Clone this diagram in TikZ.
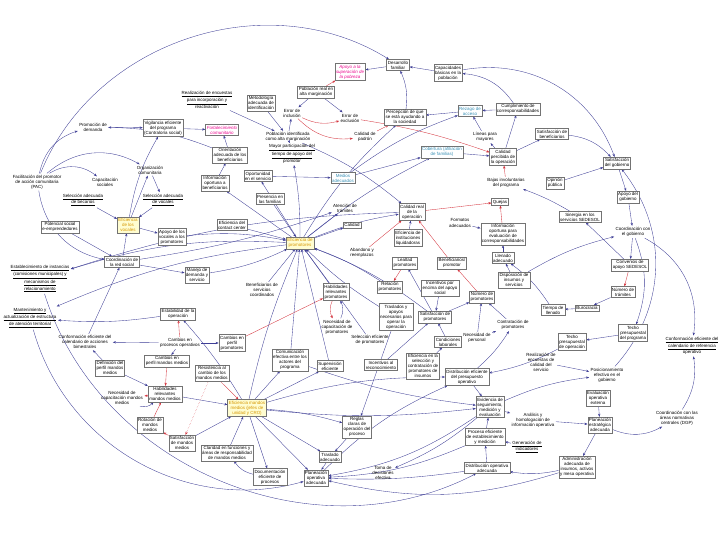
\documentclass[tikz,border=0pt]{standalone}
\usepackage{fontspec}
\setmainfont{Liberation Sans}
\usetikzlibrary{arrows.meta, backgrounds}
\definecolor{lkblue}{RGB}{62,62,150}
\definecolor{ngred}{RGB}{212,52,62}
\definecolor{golden}{RGB}{214,150,0}
\newcommand{\undl}[1]{\underline{#1}}
\begin{document}
\begin{tikzpicture}[
    x=0.03cm, y=-0.03cm,
    every node/.style={font=\fontsize{3.8}{4.3}\selectfont, align=center, inner sep=1.1pt},
    box/.style={rectangle, draw=black!55, line width=0.3pt, fill=white},
    txt/.style={rectangle},
    utxt/.style={rectangle},
    magbox/.style={box, text=magenta, font=\fontsize{3.8}{4.3}\selectfont\itshape},
    cyanbox/.style={box, text=cyan!70!black},
    yelbox/.style={box, fill=yellow!18, text=golden},
    lk/.style={-{Stealth[length=2.6pt,width=2pt]}, draw=lkblue, line width=0.3pt},
    ng/.style={-{Stealth[length=2.6pt,width=2pt]}, draw=ngred, line width=0.3pt}
]
\useasboundingbox (0,0) rectangle (720,540);

% Community side (top left)
\node[txt] (dem) at (93,127) {Promoción de\\demanda};
\node[box] (vig) at (163,128) {Vigilancia eficiente\\del programa\\(Contraloría social)};
\node[txt] (orgc) at (150,170) {Organización\\comunitaria};
\node[txt] (pac) at (37,182) {Facilitación del promotor\\de acción comunitaria\\(PAC)};
\node[txt] (capso) at (105,182) {Capacitación\\sociales};
\node[utxt] (selbec) at (83,200) {\undl{Selección adecuada}\\\undl{de becarios}};
\node[utxt] (selvoc) at (163,200) {\undl{Selección adecuada}\\\undl{de vocales}};
\node[yelbox] (efvoc) at (128,225) {Eficiencia\\de los\\vocales};
\node[box] (potsoc) at (60,227) {Potencial social\\e-emprendedores};
\node[box] (apvoc) at (172,237) {Apoyo de los\\vocales a los\\promotores};
\node[box] (coord) at (122,262) {Coordinación de\\la red social};
\node[utxt] (estab) at (40,279) {\undl{Establecimiento de instancias}\\\undl{(comisiones municipales) y}\\\undl{mecanismos de}\\\undl{relacionamiento}};
\node[utxt] (mant) at (30,318) {\undl{Mantenimiento y}\\\undl{actualización de estructura}\\\undl{de atención territorial}};
\node[box] (estop) at (178,314) {Estabilidad de la\\operación};
\node[txt] (confcal) at (85,342) {Conformación eficiente del\\calendario de acciones\\bimestrales};

% Identification and results (top middle)
\node[magbox] (apoyo) at (350,72) {Apoyo a la\\superación de\\la pobreza};
\node[box] (pobreal) at (316,92) {Población real en\\alta marginación};
\node[utxt] (encu) at (207,100) {\undl{Realización de encuestas}\\\undl{para incorporación y}\\reactivación};
\node[box] (metod) at (261,103) {Metodología\\adecuada de\\identificación};
\node[txt] (errinc) at (292,113) {Error de\\inclusión};
\node[txt] (errexc) at (350,118) {Error de\\exclusión};
\node[magbox] (fortc) at (222,130) {Fortalecimiento\\comunitario};
\node[txt] (pobid) at (288,137) {Población identificada\\como alta marginación};
\node[utxt] (mayor) at (292,154) {\undl{Mayor participación del}\\\undl{tiempo de apoyo del}\\promotor};
\node[box] (orient) at (230,155) {Orientación\\adecuada de los\\beneficiarios};
\node[cyanbox] (medios) at (343,178) {Medios\\adecuados};
\node[box] (oport) at (258,176) {Oportunidad\\en el servicio};
\node[box] (infob) at (215,183) {Información\\oportuna a\\beneficiarios};
\node[box] (presf) at (270,199) {Presencia en\\las familias};
\node[txt] (tram) at (345,208) {Atención de\\trámites};
\node[box] (desfam) at (398,65) {Desarrollo\\familiar};
\node[box] (capac) at (448,73) {Capacidades\\básicas en la\\población};
\node[box] (percep) at (405,117) {Percepción de que\\se está ayudando a\\la sociedad};
\node[cyanbox] (rezago) at (470,111) {Rezago de\\acceso};
\node[box] (cumpl) at (518,109) {Cumplimiento de\\corresponsabilidades};
\node[txt] (padron) at (365,137) {Calidad de\\padrón};
\node[cyanbox] (cobert) at (442,152) {Cobertura (afiliación\\de familias)};
\node[txt] (lineas) at (485,137) {Líneas para\\mayores};
\node[box] (calper) at (503,157) {Calidad\\percibida de\\la operación};
\node[txt] (bajas) at (506,183) {Bajas involuntarias\\del programa};
\node[box] (quejas) at (500,202) {Quejas};

% Government (right)
\node[box] (satben) at (552,134) {Satisfacción de\\beneficiarios};
\node[box] (satgob) at (617,163) {Satisfacción\\del gobierno};
\node[box] (opin) at (555,183) {Opinión\\pública};
\node[box] (apgob) at (628,197) {Apoyo del\\gobierno};
\node[box] (siner) at (580,217) {Sinergia en los\\servicios SEDESOL};
\node[txt] (coorgob) at (633,232) {Coordinación con\\el gobierno};
\node[box] (conv) at (630,265) {Convenios de\\apoyo SEDESOL};
\node[box] (numtram) at (623,292) {Número de\\trámites};
\node[box] (buro) at (587,308) {Burocracia};
\node[box] (tiemll) at (553,310) {Tiempo de\\llenado};
\node[box] (techprog) at (633,333) {Techo\\presupuestal\\del programa};
\node[box] (techop) at (572,342) {Techo\\presupuestal\\de operación};
\node[utxt] (confref) at (692,346) {\undl{Conformación eficiente del}\\\undl{calendario de referencia}\\operativo};
\node[txt] (realev) at (541,362) {Realización de\\encuestas de\\calidad del\\servicio};
\node[txt] (posic) at (607,375) {Posicionamiento\\efectivo en el\\gobierno};
\node[box] (evalext) at (598,398) {Evaluación\\operativa\\externa};
\node[box] (planest) at (600,425) {Planeación\\estratégica\\adecuada};
\node[txt] (coordgp) at (677,418) {Coordinación con las\\áreas normativas\\centrales (DGP)};
\node[box] (admin) at (577,467) {Administración\\adecuada de\\insumos, activos\\y mesa operativa};

% Promoters (centre)
\node[box] (efcc) at (232,225) {Eficiencia del\\contact center};
\node[yelbox] (efprom) at (300,243) {Eficiencia de\\promotores};
\node[box] (calidad) at (352,225) {Calidad};
\node[box] (mandem) at (197,275) {Manejo de\\demanda y\\servicio};
\node[txt] (bencoor) at (262,290) {Beneficiarios de\\servicios\\coordinados};
\node[box] (habpro) at (336,292) {Habilidades\\relevantes\\promotores};
\node[txt] (neccpro) at (337,327) {Necesidad de\\capacitación de\\promotores};
\node[box] (campro) at (232,343) {Cambios en\\perfil\\promotores};
\node[box] (comef) at (290,360) {Comunicación\\efectiva entre los\\actores del\\programa};
\node[box] (superv) at (330,366) {Supervisión\\eficiente};
\node[txt] (camproc) at (180,343) {Cambios en\\procesos operativos};
\node[box] (calreal) at (412,212) {Calidad real\\de la\\operación};
\node[txt] (format) at (460,223) {Formatos\\adecuados};
\node[box] (infcor) at (503,234) {Información\\oportuna para\\evaluación de\\corresponsabilidades};
\node[box] (efliq) at (408,238) {Eficiencia de\\instituciones\\liquidadoras};
\node[box] (benprom) at (452,263) {Beneficiarios/\\promotor};
\node[box] (llenado) at (503,258) {Llenado\\adecuado};
\node[txt] (aband) at (362,253) {Abandono y\\reemplazos};
\node[box] (lealtad) at (405,263) {Lealtad\\promotores};
\node[box] (relprom) at (390,287) {Relación\\promotores};
\node[box] (incent) at (440,288) {Incentivos por\\encima del apoyo\\social};
\node[box] (numprom) at (482,297) {Número de\\promotores};
\node[box] (dispins) at (514,280) {Disposición de\\insumos y\\servicios};
\node[box] (trasl) at (396,317) {Traslados y\\apoyos\\necesarios para\\operar la\\operación};
\node[box] (satprom) at (435,317) {Satisfacción de\\promotores};
\node[txt] (contprom) at (513,325) {Contratación de\\promotores};
\node[txt] (selprom) at (370,340) {Selección eficiente\\de promotores};
\node[box] (condlab) at (448,342) {Condiciones\\laborales};
\node[txt] (necper) at (477,338) {Necesidad de\\personal};
\node[box] (increc) at (381,365) {Incentivos al\\reconocimiento};
\node[box] (efsel) at (423,366) {Eficiencia en la\\selección y\\contratación de\\promotores de\\insumos};

% Middle managers and operation (bottom)
\node[box] (defper) at (110,368) {Definición del\\perfil mandos\\medios};
\node[box] (campmm) at (167,361) {Cambios en\\perfil mandos medios};
\node[box] (habmm) at (165,394) {Habilidades\\relevantes\\mandos medios};
\node[txt] (necmm) at (122,398) {Necesidad de\\capacitación mandos\\medios};
\node[box] (rotmm) at (150,425) {Rotación de\\mandos\\medios};
\node[box] (satmm) at (182,443) {Satisfacción\\de mandos\\medios};
\node[box] (resmm) at (212,373) {Resistencia al\\cambio de los\\mandos medios};
\node[yelbox] (efmm) at (247,408) {Eficiencia mandos\\medios (jefes de\\unidad y CRO)};
\node[box] (claridad) at (227,453) {Claridad en funciones y\\áreas de responsabilidad\\de mandos medios};
\node[box] (docum) at (270,477) {Documentación\\eficiente de\\procesos};
\node[box] (planop) at (316,478) {Planeación\\operativa\\adecuada};
\node[box] (trasad) at (330,457) {Traslado\\adecuado};
\node[box] (reglas) at (357,427) {Reglas\\claras de\\operación del\\proceso};
\node[box] (distpres) at (467,377) {Distribución eficiente\\del presupuesto\\operativo};
\node[box] (evid) at (490,407) {Evidencia de\\seguimiento,\\medición y\\evaluación};
\node[box] (proc) at (485,437) {Proceso eficiente\\de establecimiento\\y medición};
\node[utxt] (genind) at (527,447) {\undl{Generación de}\\\undl{indicadores}};
\node[txt] (analis) at (533,420) {Análisis y\\homologación de\\información operativa};
\node[box] (distop) at (487,468) {Distribución operativa\\adecuada};
\node[txt] (toma) at (383,473) {Toma de\\decisiones\\efectiva};

\begin{scope}[on background layer]
% Community links
\draw[lk] (dem) -- (vig);
\draw[lk] (pac) to[bend left=30] (dem);
\draw[lk] (pac) to[bend left=35] (capso);
\draw[lk] (pac) to[bend left=35] (orgc);
\draw[lk] (orient) to[bend right=10] (dem);
\draw[lk] (vig) -- (fortc);
\draw[lk] (orient) -- (fortc);
\draw[lk] (infob) -- (orient);
\draw[lk] (orgc) -- (selvoc);
\draw[lk] (efvoc) -- (orgc);
\draw[lk] (efvoc) to[bend left=10] (vig);
\draw[lk] (selbec) -- (efvoc);
\draw[lk] (selvoc) -- (efvoc);
\draw[lk] (pac) to[bend right=35] (coord);
\draw[lk] (potsoc) -- (coord);
\draw[lk] (coord) -- (efvoc);
\draw[lk] (efvoc) -- (apvoc);
\draw[lk] (apvoc) to[bend left=8] (efprom);
\draw[lk] (coord) -- (mandem);
\draw[lk] (mandem) to[bend right=8] (efprom);
\draw[lk] (efprom) to[bend right=10] (estab);
\draw[lk] (calreal) to[bend right=8] (estab);
\draw[lk] (efprom) to[bend right=8] (mant);
\draw[lk] (estop) to[bend left=6] (mant);
\draw[lk] (camproc) -- (confcal);
\draw[lk] (confcal) -- (coord);
\draw[lk] (defper) -- (confcal);
\draw[lk] (mant) to[bend right=45] (planop);
\draw[lk] (estab) to[bend right=50] (distop);
\draw[lk] (pac) to[bend left=50] (desfam);
\draw[lk] (coord) to[bend right=5] (tram);
% Identification links
\draw[ng] (pobreal) -- (apoyo);
\draw[lk] (desfam) -- (apoyo);
\draw[lk] (capac) -- (desfam);
\draw[lk] (pobreal) -- (errinc);
\draw[lk] (pobreal) -- (errexc);
\draw[ng] (errinc) to[bend right=20] (errexc);
\draw[ng] (errinc) to[bend right=25] (padron);
\draw[lk] (metod) -- (pobid);
\draw[lk] (pobid) -- (errinc);
\draw[lk] (mayor) -- (pobid);
\draw[lk] (encu) -- (pobid);
\draw[ng] (padron) -- (percep);
\draw[lk] (rezago) -- (percep);
\draw[lk] (cumpl) -- (rezago);
\draw[lk] (cumpl) to[bend right=25] (capac);
\draw[lk] (lineas) -- (rezago);
\draw[lk] (calper) -- (lineas);
\draw[lk] (calper) -- (cumpl);
\draw[lk] (calper) -- (satben);
\draw[lk] (satben) to[bend left=20] (satgob);
\draw[lk] (capac) to[bend left=40] (satgob);
\draw[ng] (bajas) -- (calper);
\draw[ng] (errexc) to[bend left=5] (calper);
\draw[ng] (infcor) -- (quejas);
\draw[ng] (calreal) -- (quejas);
\draw[lk] (medios) -- (cobert);
\draw[lk] (medios) to[bend left=8] (rezago);
\draw[lk] (cobert) -- (calper);
\draw[lk] (pobid) to[bend left=8] (calreal);
\draw[lk] (oport) -- (medios);
\draw[lk] (percep) to[bend right=15] (desfam);
% Government links
\draw[lk] (opin) -- (satgob);
\draw[lk] (satgob) -- (apgob);
\draw[lk] (apgob) -- (coorgob);
\draw[lk] (coorgob) -- (conv);
\draw[ng] (conv) -- (numtram);
\draw[lk] (numtram) -- (buro);
\draw[lk] (buro) -- (tiemll);
\draw[lk] (conv) -- (siner);
\draw[lk] (dispins) to[bend left=8] (coorgob);
\draw[lk] (siner) to[bend right=5] (bajas);
\draw[lk] (coorgob) to[bend left=20] (techprog);
\draw[lk] (techprog) -- (techop);
\draw[lk] (coorgob) to[bend left=35] (confref);
\draw[lk] (coordgp) to[bend right=20] (confref);
\draw[lk] (posic) to[bend right=40] (satgob);
\draw[lk] (tiemll) to[bend right=10] (llenado);
\draw[lk] (techop) to[bend left=8] (distpres);
\draw[lk] (evid) to[bend left=8] (posic);
\draw[lk] (realev) -- (posic);
\draw[lk] (evalext) -- (planest);
\draw[lk] (planest) to[bend right=25] (coordgp);
\draw[lk] (planest) -- (admin);
\draw[lk] (analis) -- (planest);
% Promoter links
\draw[lk] (dispins) -- (llenado);
\draw[lk] (llenado) -- (infcor);
\draw[lk] (format) -- (infcor);
\draw[ng] (numprom) -- (benprom);
\draw[ng] (benprom) -- (calreal);
\draw[ng] (aband) -- (calreal);
\draw[lk] (necper) -- (numprom);
\draw[lk] (necper) -- (contprom);
\draw[lk] (contprom) -- (numprom);
\draw[lk] (distpres) to[bend right=8] (contprom);
\draw[lk] (satprom) -- (numprom);
\draw[lk] (incent) -- (satprom);
\draw[lk] (satprom) -- (lealtad);
\draw[ng] (lealtad) -- (relprom);
\draw[lk] (condlab) -- (satprom);
\draw[lk] (efsel) -- (condlab);
\draw[lk] (efliq) -- (calreal);
\draw[ng] (habpro) to[bend right=25] (neccpro);
\draw[lk] (neccpro) to[bend right=25] (habpro);
\draw[ng] (campro) -- (habpro);
\draw[lk] (habpro) -- (efprom);
\draw[lk] (efprom) -- (tram);
\draw[lk] (efprom) -- (calidad);
\draw[lk] (efprom) to[bend left=6] (calreal);
\draw[lk] (efcc) -- (efprom);
\draw[lk] (presf) -- (efprom);
\draw[lk] (efprom) -- (oport);
\draw[lk] (efprom) -- (infob);
\draw[lk] (bencoor) -- (efprom);
\draw[lk] (comef) -- (efprom);
\draw[lk] (superv) -- (efprom);
\draw[lk] (relprom) to[bend right=6] (efprom);
\draw[lk] (trasl) to[bend left=6] (efprom);
\draw[lk] (satprom) to[bend right=8] (efprom);
\draw[lk] (selprom) -- (efprom);
\draw[lk] (increc) -- (satprom);
\draw[lk] (efprom) to[bend right=5] (mayor);
\draw[lk] (efprom) to[bend left=6] (cobert);
\draw[lk] (efprom) to[bend left=8] (percep);
% Middle managers links
\draw[ng] (camproc) -- (estop);
\draw[lk] (camproc) -- (campmm);
\draw[lk] (camproc) -- (campro);
\draw[ng] (campmm) -- (habmm);
\draw[lk] (defper) -- (habmm);
\draw[lk] (necmm) to[bend right=30] (habmm);
\draw[ng] (habmm) -- (necmm);
\draw[ng] (rotmm) -- (habmm);
\draw[ng] (satmm) -- (rotmm);
\draw[ng] (resmm) -- (efmm);
\draw[ng, densely dotted] (resmm) -- (satmm);
\draw[lk] (habmm) -- (efmm);
\draw[lk] (claridad) -- (efmm);
\draw[lk] (efmm) -- (docum);
\draw[lk] (docum) to[bend left=20] (claridad);
\draw[lk] (satmm) -- (efmm);
\draw[lk] (efmm) -- (planop);
\draw[lk] (efmm) -- (trasad);
\draw[lk] (reglas) -- (trasad);
\draw[lk] (efmm) to[bend left=6] (reglas);
\draw[lk] (efmm) to[bend left=5] (efprom);
\draw[lk] (efmm) -- (superv);
\draw[lk] (efmm) -- (comef);
\draw[lk] (efmm) to[bend left=8] (distpres);
\draw[lk] (efmm) to[bend right=6] (evid);
\draw[lk] (efmm) to[bend right=5] (estop);
\draw[lk] (trasad) -- (planop);
\draw[lk] (distop) to[bend left=5] (planop);
\draw[lk] (proc) to[bend left=10] (planop);
\draw[lk] (admin) to[bend left=15] (planop);
\draw[lk] (evid) to[bend left=12] (planop);
\draw[lk] (proc) -- (evid);
\draw[lk] (distop) -- (proc);
\draw[lk] (genind) -- (proc);
\draw[lk] (evid) -- (analis);
\draw[lk] (distpres) -- (evid);
\draw[lk] (evid) to[bend left=8] (toma);
\draw[lk] (planop) to[bend left=10] (distpres);
\draw[lk] (admin) to[bend left=10] (distop);
\draw[lk] (comef) to[bend right=6] (evid);
\draw[lk] (trasl) -- (reglas);
\end{scope}

\end{tikzpicture}
\end{document}
